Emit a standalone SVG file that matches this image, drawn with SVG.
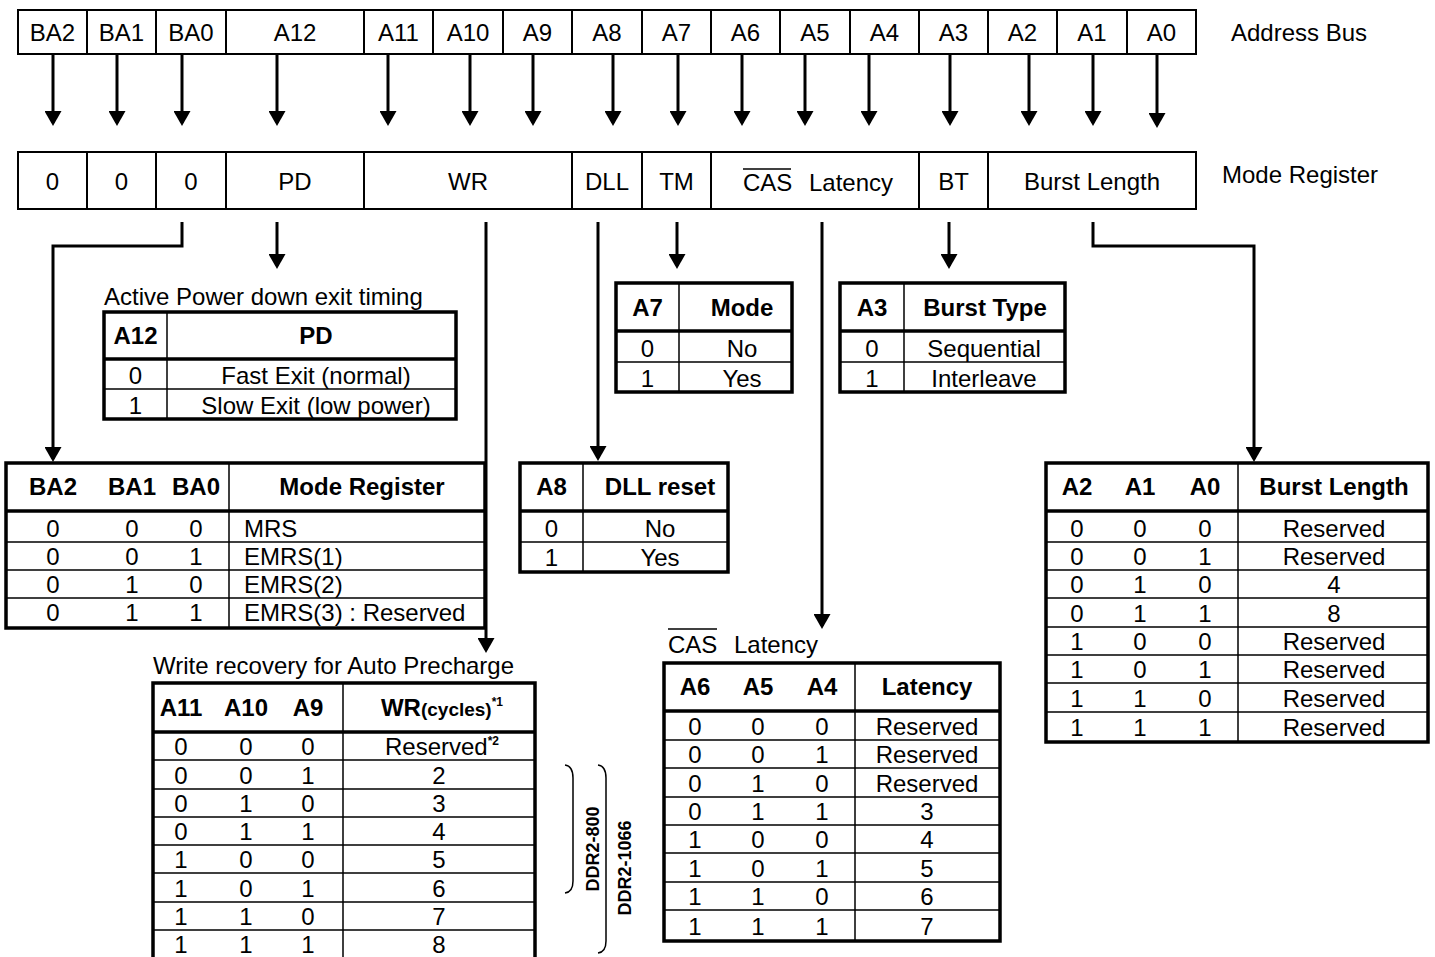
<svg xmlns="http://www.w3.org/2000/svg" width="1435" height="957" viewBox="0 0 1435 957">
<style>
text{font-family:"Liberation Sans",Arial,Helvetica,sans-serif;font-size:24px;fill:#000}
.m{text-anchor:middle}
.b{font-weight:bold}
.ddr{font-size:18px;font-weight:bold;text-anchor:middle}
.bar{fill:#fff;stroke:#000;stroke-width:2}
.div{stroke:#000;stroke-width:2}
.outer{fill:none;stroke:#000;stroke-width:3.5}
.hd{stroke:#000;stroke-width:3.5}
.th{stroke:#000;stroke-width:1.5}
.conn{fill:none;stroke:#000;stroke-width:3}
.br{fill:none;stroke:#000;stroke-width:1.5}
</style>
<defs>
<marker id="ah" markerUnits="userSpaceOnUse" markerWidth="15" markerHeight="17" viewBox="0 0 15 17" refX="12" refY="8.5" orient="auto">
<path d="M0,0 L15,8.5 L0,17 z" fill="#000"/>
</marker>
</defs>
<rect width="1435" height="957" fill="#fff"/>

<g id="address-bus">
<rect x="18" y="10" width="1178" height="44" class="bar"/>
<path class="div" d="M87,10V54M156,10V54M226,10V54M364,10V54M433,10V54M503,10V54M572,10V54M642,10V54M711,10V54M780,10V54M850,10V54M919,10V54M988,10V54M1057,10V54M1127,10V54"/>
<text class="m" x="52.5" y="41">BA2</text>
<text class="m" x="121.5" y="41">BA1</text>
<text class="m" x="191" y="41">BA0</text>
<text class="m" x="295" y="41">A12</text>
<text class="m" x="398.5" y="41">A11</text>
<text class="m" x="468" y="41">A10</text>
<text class="m" x="537.5" y="41">A9</text>
<text class="m" x="607" y="41">A8</text>
<text class="m" x="676.5" y="41">A7</text>
<text class="m" x="745.5" y="41">A6</text>
<text class="m" x="815" y="41">A5</text>
<text class="m" x="884.5" y="41">A4</text>
<text class="m" x="953.5" y="41">A3</text>
<text class="m" x="1022.5" y="41">A2</text>
<text class="m" x="1092" y="41">A1</text>
<text class="m" x="1161.5" y="41">A0</text>
</g>
<g id="label-address-bus"><text x="1231" y="41">Address Bus</text></g>

<g id="mode-register">
<rect x="18" y="152" width="1178" height="57" class="bar"/>
<path class="div" d="M87,152V209M156,152V209M226,152V209M364,152V209M572,152V209M642,152V209M711,152V209M919,152V209M988,152V209"/>
<text class="m" x="52.5" y="190">0</text>
<text class="m" x="121.5" y="190">0</text>
<text class="m" x="191" y="190">0</text>
<text class="m" x="295" y="190">PD</text>
<text class="m" x="468" y="190">WR</text>
<text class="m" x="607" y="190">DLL</text>
<text class="m" x="676.5" y="190">TM</text>
<text x="743" y="191">CAS</text>
<line x1="743" y1="169" x2="791" y2="169" class="th"/>
<text x="809" y="191">Latency</text>
<text class="m" x="953.5" y="190">BT</text>
<text class="m" x="1092" y="190">Burst Length</text>
</g>
<g id="label-mode-register"><text x="1222" y="183">Mode Register</text></g>

<g id="connectors">
<path class="conn" marker-end="url(#ah)" d="M53,54V123"/>
<path class="conn" marker-end="url(#ah)" d="M117,54V123"/>
<path class="conn" marker-end="url(#ah)" d="M182,54V123"/>
<path class="conn" marker-end="url(#ah)" d="M277,54V123"/>
<path class="conn" marker-end="url(#ah)" d="M388,54V123"/>
<path class="conn" marker-end="url(#ah)" d="M470,54V123"/>
<path class="conn" marker-end="url(#ah)" d="M533,54V123"/>
<path class="conn" marker-end="url(#ah)" d="M613,54V123"/>
<path class="conn" marker-end="url(#ah)" d="M678,54V123"/>
<path class="conn" marker-end="url(#ah)" d="M742,54V123"/>
<path class="conn" marker-end="url(#ah)" d="M805,54V123"/>
<path class="conn" marker-end="url(#ah)" d="M869,54V123"/>
<path class="conn" marker-end="url(#ah)" d="M950,54V123"/>
<path class="conn" marker-end="url(#ah)" d="M1029,54V123"/>
<path class="conn" marker-end="url(#ah)" d="M1093,54V123"/>
<path class="conn" marker-end="url(#ah)" d="M1157,54V125"/>
<path class="conn" marker-end="url(#ah)" d="M182,222V246H53V459"/>
<path class="conn" marker-end="url(#ah)" d="M277,222V266"/>
<path class="conn" marker-end="url(#ah)" d="M486,222V650"/>
<path class="conn" marker-end="url(#ah)" d="M598,222V458"/>
<path class="conn" marker-end="url(#ah)" d="M677,222V266"/>
<path class="conn" marker-end="url(#ah)" d="M822,222V626"/>
<path class="conn" marker-end="url(#ah)" d="M949,222V266"/>
<path class="conn" marker-end="url(#ah)" d="M1093,222V246H1254V459"/>
</g>

<g id="tbl-pd">
<text x="104" y="305">Active Power down exit timing</text>
<rect x="104" y="312" width="352" height="107" class="outer"/>
<line x1="104" y1="359" x2="456" y2="359" class="hd"/>
<line x1="104" y1="389" x2="456" y2="389" class="th"/>
<line x1="167" y1="312" x2="167" y2="419" class="th"/>
<text class="m b" x="135.5" y="344">A12</text>
<text class="m b" x="316" y="344">PD</text>
<text class="m" x="135.5" y="384">0</text>
<text class="m" x="316" y="384">Fast Exit (normal)</text>
<text class="m" x="135.5" y="414">1</text>
<text class="m" x="316" y="414">Slow Exit (low power)</text>
</g>

<g id="tbl-ba">
<rect x="6" y="463" width="479" height="165" class="outer"/>
<line x1="6" y1="511" x2="485" y2="511" class="hd"/>
<path class="th" d="M6,542H485M6,570H485M6,598H485M229,463V628"/>
<text class="m b" x="53" y="495">BA2</text>
<text class="m b" x="132" y="495">BA1</text>
<text class="m b" x="196" y="495">BA0</text>
<text class="m b" x="362" y="495">Mode Register</text>
<text class="m" x="53" y="537">0</text><text class="m" x="132" y="537">0</text><text class="m" x="196" y="537">0</text><text x="244" y="537">MRS</text>
<text class="m" x="53" y="565">0</text><text class="m" x="132" y="565">0</text><text class="m" x="196" y="565">1</text><text x="244" y="565">EMRS(1)</text>
<text class="m" x="53" y="593">0</text><text class="m" x="132" y="593">1</text><text class="m" x="196" y="593">0</text><text x="244" y="593">EMRS(2)</text>
<text class="m" x="53" y="621">0</text><text class="m" x="132" y="621">1</text><text class="m" x="196" y="621">1</text><text x="244" y="621">EMRS(3) : Reserved</text>
</g>

<g id="tbl-tm">
<rect x="616" y="283" width="176" height="109" class="outer"/>
<line x1="616" y1="331" x2="792" y2="331" class="hd"/>
<path class="th" d="M616,362H792M679,283V392"/>
<text class="m b" x="647.5" y="316">A7</text>
<text class="m b" x="742" y="316">Mode</text>
<text class="m" x="647.5" y="357">0</text><text class="m" x="742" y="357">No</text>
<text class="m" x="647.5" y="387">1</text><text class="m" x="742" y="387">Yes</text>
</g>

<g id="tbl-bt">
<rect x="840" y="283" width="225" height="109" class="outer"/>
<line x1="840" y1="331" x2="1065" y2="331" class="hd"/>
<path class="th" d="M840,362H1065M904,283V392"/>
<text class="m b" x="872" y="316">A3</text>
<text class="m b" x="985" y="316">Burst Type</text>
<text class="m" x="872" y="357">0</text><text class="m" x="984" y="357">Sequential</text>
<text class="m" x="872" y="387">1</text><text class="m" x="984" y="387">Interleave</text>
</g>

<g id="tbl-dll">
<rect x="520" y="463" width="208" height="109" class="outer"/>
<line x1="520" y1="511" x2="728" y2="511" class="hd"/>
<path class="th" d="M520,542H728M583,463V572"/>
<text class="m b" x="551.5" y="495">A8</text>
<text class="m b" x="660" y="495">DLL reset</text>
<text class="m" x="551.5" y="537">0</text><text class="m" x="660" y="537">No</text>
<text class="m" x="551.5" y="566">1</text><text class="m" x="660" y="566">Yes</text>
</g>

<g id="tbl-bl">
<rect x="1046" y="463" width="382" height="279" class="outer"/>
<line x1="1046" y1="511" x2="1428" y2="511" class="hd"/>
<path class="th" d="M1046,542H1428M1046,570H1428M1046,598H1428M1046,627H1428M1046,655H1428M1046,683H1428M1046,712H1428M1238,463V742"/>
<text class="m b" x="1077" y="495">A2</text>
<text class="m b" x="1140" y="495">A1</text>
<text class="m b" x="1205" y="495">A0</text>
<text class="m b" x="1334" y="495">Burst Length</text>
<text class="m" x="1077" y="537">0</text><text class="m" x="1140" y="537">0</text><text class="m" x="1205" y="537">0</text><text class="m" x="1334" y="537">Reserved</text>
<text class="m" x="1077" y="565">0</text><text class="m" x="1140" y="565">0</text><text class="m" x="1205" y="565">1</text><text class="m" x="1334" y="565">Reserved</text>
<text class="m" x="1077" y="593">0</text><text class="m" x="1140" y="593">1</text><text class="m" x="1205" y="593">0</text><text class="m" x="1334" y="593">4</text>
<text class="m" x="1077" y="622">0</text><text class="m" x="1140" y="622">1</text><text class="m" x="1205" y="622">1</text><text class="m" x="1334" y="622">8</text>
<text class="m" x="1077" y="650">1</text><text class="m" x="1140" y="650">0</text><text class="m" x="1205" y="650">0</text><text class="m" x="1334" y="650">Reserved</text>
<text class="m" x="1077" y="678">1</text><text class="m" x="1140" y="678">0</text><text class="m" x="1205" y="678">1</text><text class="m" x="1334" y="678">Reserved</text>
<text class="m" x="1077" y="707">1</text><text class="m" x="1140" y="707">1</text><text class="m" x="1205" y="707">0</text><text class="m" x="1334" y="707">Reserved</text>
<text class="m" x="1077" y="736">1</text><text class="m" x="1140" y="736">1</text><text class="m" x="1205" y="736">1</text><text class="m" x="1334" y="736">Reserved</text>
</g>

<g id="tbl-cas">
<text x="668" y="653">CAS</text>
<line x1="668" y1="629" x2="717" y2="629" class="th"/>
<text x="734" y="653">Latency</text>
<rect x="664" y="663" width="336" height="278" class="outer"/>
<line x1="664" y1="711" x2="1000" y2="711" class="hd"/>
<path class="th" d="M664,740H1000M664,768H1000M664,797H1000M664,825H1000M664,853H1000M664,882H1000M664,910H1000M855,663V941"/>
<text class="m b" x="695" y="695">A6</text>
<text class="m b" x="758" y="695">A5</text>
<text class="m b" x="822" y="695">A4</text>
<text class="m b" x="927" y="695">Latency</text>
<text class="m" x="695" y="735">0</text><text class="m" x="758" y="735">0</text><text class="m" x="822" y="735">0</text><text class="m" x="927" y="735">Reserved</text>
<text class="m" x="695" y="763">0</text><text class="m" x="758" y="763">0</text><text class="m" x="822" y="763">1</text><text class="m" x="927" y="763">Reserved</text>
<text class="m" x="695" y="792">0</text><text class="m" x="758" y="792">1</text><text class="m" x="822" y="792">0</text><text class="m" x="927" y="792">Reserved</text>
<text class="m" x="695" y="820">0</text><text class="m" x="758" y="820">1</text><text class="m" x="822" y="820">1</text><text class="m" x="927" y="820">3</text>
<text class="m" x="695" y="848">1</text><text class="m" x="758" y="848">0</text><text class="m" x="822" y="848">0</text><text class="m" x="927" y="848">4</text>
<text class="m" x="695" y="877">1</text><text class="m" x="758" y="877">0</text><text class="m" x="822" y="877">1</text><text class="m" x="927" y="877">5</text>
<text class="m" x="695" y="905">1</text><text class="m" x="758" y="905">1</text><text class="m" x="822" y="905">0</text><text class="m" x="927" y="905">6</text>
<text class="m" x="695" y="935">1</text><text class="m" x="758" y="935">1</text><text class="m" x="822" y="935">1</text><text class="m" x="927" y="935">7</text>
</g>

<g id="tbl-wr">
<text x="153" y="674">Write recovery for Auto Precharge</text>
<rect x="153" y="683" width="382" height="285" class="outer"/>
<line x1="153" y1="732" x2="535" y2="732" class="hd"/>
<path class="th" d="M153,760H535M153,789H535M153,817H535M153,845H535M153,873H535M153,902H535M153,930H535M343,683V962"/>
<text class="m b" x="181" y="716">A11</text>
<text class="m b" x="246" y="716">A10</text>
<text class="m b" x="308" y="716">A9</text>
<text class="m b" x="442" y="716">WR<tspan font-size="19">(cycles)</tspan><tspan font-size="12" dy="-10">*1</tspan></text>
<text class="m" x="181" y="755">0</text><text class="m" x="246" y="755">0</text><text class="m" x="308" y="755">0</text><text class="m" x="442" y="755">Reserved<tspan class="b" font-size="12" dy="-10">*2</tspan></text>
<text class="m" x="181" y="784">0</text><text class="m" x="246" y="784">0</text><text class="m" x="308" y="784">1</text><text class="m" x="439" y="784">2</text>
<text class="m" x="181" y="812">0</text><text class="m" x="246" y="812">1</text><text class="m" x="308" y="812">0</text><text class="m" x="439" y="812">3</text>
<text class="m" x="181" y="840">0</text><text class="m" x="246" y="840">1</text><text class="m" x="308" y="840">1</text><text class="m" x="439" y="840">4</text>
<text class="m" x="181" y="868">1</text><text class="m" x="246" y="868">0</text><text class="m" x="308" y="868">0</text><text class="m" x="439" y="868">5</text>
<text class="m" x="181" y="897">1</text><text class="m" x="246" y="897">0</text><text class="m" x="308" y="897">1</text><text class="m" x="439" y="897">6</text>
<text class="m" x="181" y="925">1</text><text class="m" x="246" y="925">1</text><text class="m" x="308" y="925">0</text><text class="m" x="439" y="925">7</text>
<text class="m" x="181" y="953">1</text><text class="m" x="246" y="953">1</text><text class="m" x="308" y="953">1</text><text class="m" x="439" y="953">8</text>
</g>

<g id="ddr-brackets">
<path class="br" d="M565,765Q573,766 573,778L573,881Q573,892 565,893"/>
<path class="br" d="M598,765Q606,766 606,778L606,941Q606,952 598,953"/>
<text class="ddr" transform="translate(599,849) rotate(-90)">DDR2-800</text>
<text class="ddr" transform="translate(631,868) rotate(-90)">DDR2-1066</text>
</g>
</svg>
